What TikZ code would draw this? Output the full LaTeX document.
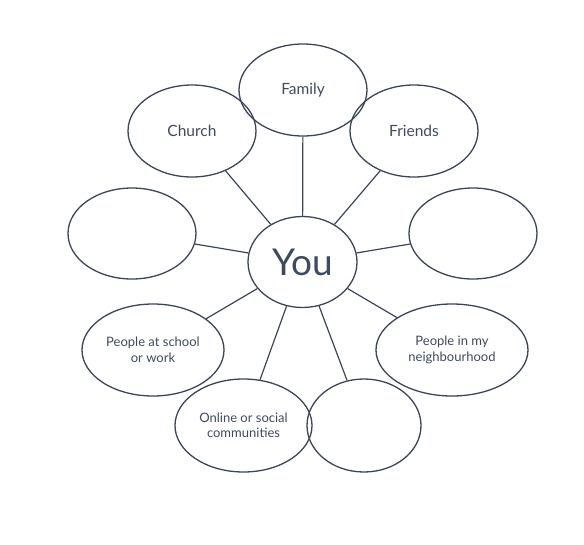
\documentclass[tikz,border=0pt]{standalone}
\usepackage{fontspec}
\setmainfont{Lato}
\usetikzlibrary{shapes.geometric}
\definecolor{ink}{HTML}{3B4558}
\definecolor{txt}{HTML}{3E4A60}
\tikzset{
  bub/.style={draw=ink, line width=1.3pt, ellipse, inner sep=0pt, text=txt, align=center, font=\fontsize{15.5}{18}\selectfont},
  small/.style={font=\fontsize{13}{15.5}\selectfont},
  link/.style={draw=ink, line width=1.2pt}
}
\begin{document}
\begin{tikzpicture}[x=1pt,y=-1pt]
\useasboundingbox (0,0) rectangle (584,544);
\node[bub, minimum width=109pt, minimum height=91pt, font=\fontsize{37}{42}\selectfont] (you) at (302.5,262) {You};
\node[bub, minimum width=128pt, minimum height=92pt] (family) at (303,90) {Family};
\node[bub, minimum width=128pt, minimum height=92pt] (church) at (192,131) {Church};
\node[bub, minimum width=128pt, minimum height=92pt] (friends) at (414,131) {Friends};
\node[bub, minimum width=128pt, minimum height=91pt] (left) at (132,233.5) {};
\node[bub, minimum width=128pt, minimum height=91pt] (right) at (473,233.5) {};
\node[bub, small, minimum width=142pt, minimum height=92pt] (school) at (153,350) {People at school\\or work};
\node[bub, small, minimum width=152pt, minimum height=92pt] (hood) at (452,350) {People in my\\neighbourhood};
\node[bub, small, minimum width=137pt, minimum height=93pt] (online) at (243.5,425.5) {Online or social\\communities};
\node[bub, minimum width=114pt, minimum height=93pt] (bottom) at (364,425.5) {};
\foreach \n in {family,church,friends,left,right,school,hood,online,bottom}
  \draw[link] (you) -- (\n);
\end{tikzpicture}
\end{document}
